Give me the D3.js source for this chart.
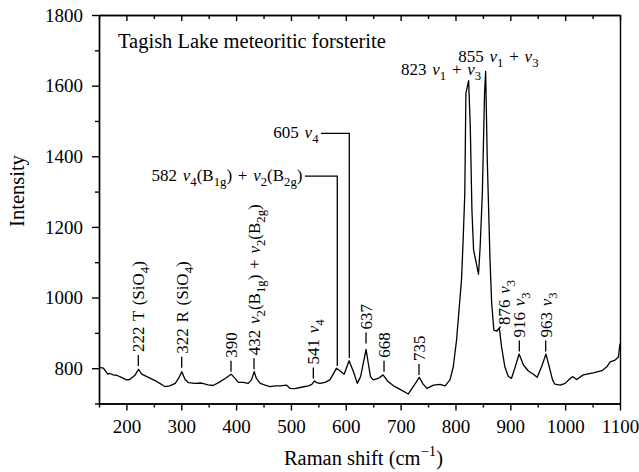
<!DOCTYPE html>
<html lang="en">
<head>
    <meta charset="UTF-8">
    <title>Tagish Lake meteoritic forsterite</title>
    <script src="https://cdnjs.cloudflare.com/ajax/libs/d3/7.8.5/d3.min.js"></script>
    <style>
        body { margin: 0; background: #fff; }
        svg { display: block; font-family: "Liberation Serif", "DejaVu Serif", serif; }
        .axis path, .axis line { stroke: #000; stroke-width: 1.4; }
        .axis text { fill: #000; font-size: 19px; font-family: "Liberation Serif", serif; }
        .spectrum { fill: none; stroke: #000; stroke-width: 1.3; stroke-linejoin: round; }
        .leader { stroke: #000; stroke-width: 1.3; fill: none; }
        .ann { font-size: 17px; fill: #000; word-spacing: 1.5px; }
    </style>
</head>
<body>
<div id="chart"></div>
<script>
    // Raman spectrum
    const ramanShift = [150, 158, 166, 170, 176, 182, 191, 200, 206, 216, 222, 228, 240, 252, 264, 270, 279, 289, 295, 301,
        307, 313, 325, 337, 349, 358, 368, 380, 391, 398, 404, 413, 422, 428, 433, 437, 444, 453, 462, 471,
        480, 492, 498, 507, 519, 532, 538, 543, 547, 553, 562, 571, 577, 583, 589, 597, 606, 614, 621, 627,
        637, 641, 645, 650, 659, 668, 677, 687, 699, 714, 723, 734, 741, 748, 760, 772, 781, 790, 796, 802,
        808, 811, 814, 817, 819, 824, 827, 830, 833, 842, 845, 849, 853, 855, 858, 863, 866, 870, 875, 880,
        884, 890, 896, 902, 909, 916, 924, 933, 942, 949, 957, 965, 971, 977, 981, 991, 1000, 1009, 1014, 1021,
        1033, 1051, 1067, 1076, 1082, 1091, 1097, 1100];
    const intensity = [802, 800, 783, 785, 781, 780, 774, 767, 768, 781, 797, 783, 774, 765, 754, 748, 750, 757, 771, 790,
        768, 759, 757, 758, 753, 751, 759, 771, 783, 771, 760, 760, 757, 767, 790, 771, 757, 752, 748, 750,
        750, 752, 743, 742, 746, 750, 754, 764, 759, 757, 760, 767, 783, 800, 793, 783, 821, 790, 757, 776,
        853, 814, 776, 767, 771, 781, 762, 750, 740, 727, 748, 774, 755, 743, 752, 754, 750, 767, 804, 880,
        993, 1050, 1163, 1295, 1578, 1614, 1484, 1248, 1135, 1066, 1144, 1295, 1578, 1640, 1389, 1106, 984, 908, 905, 913,
        861, 804, 778, 771, 804, 840, 809, 792, 783, 774, 804, 840, 804, 767, 755, 752, 757, 771, 776, 768,
        781, 787, 793, 804, 818, 823, 831, 870];

    const xMajorTicks = [200, 300, 400, 500, 600, 700, 800, 900, 1000, 1100];
    const xMinorTicks = [150, 250, 350, 450, 550, 650, 750, 850, 950, 1050];
    const yMajorTicks = [800, 1000, 1200, 1400, 1600, 1800];
    const yMinorTicks = [700, 900, 1100, 1300, 1500, 1700];

    // vertical peak labels: peak position, intensity at tick foot, label
    const peakLabels = [
        { x: 221.7, y: 806, text: "222 T (SiO_{4})" },
        { x: 300.8, y: 801, text: "322 R (SiO_{4})" },
        { x: 390.7, y: 790, text: "390" },
        { x: 432.6, y: 797, text: "432 ν_{2}(B_{1g}) + ν_{2}(B_{2g})" },
        { x: 540.8, y: 771, text: "541 ν_{4}" },
        { x: 636.9, y: 870, text: "637" },
        { x: 669.7, y: 790, text: "668" },
        { x: 733.5, y: 781, text: "735" },
        { x: 916.4, y: 847, text: "916 ν_{3}" },
        { x: 964.5, y: 847, text: "963 ν_{3}" }
    ];
    const shoulderLabel = { x: 875, y: 905, text: "876 ν_{3}" };

    // horizontal labels with elbow leaders
    const elbowLabels = [
        { x: 606.4, y0: 829, y1: 1465, xEnd: 554.8, text: "605 ν_{4}" },
        { x: 584.5, y0: 806, y1: 1344, xEnd: 525.6, text: "582 ν_{4}(B_{1g}) + ν_{2}(B_{2g})" }
    ];
    const topLabels = [
        { x: 700.7, y: 1630, text: "823 ν_{1} + ν_{3}" },
        { x: 805.2, y: 1668, text: "855 ν_{1} + ν_{3}" }
    ];

    const width = 639, height = 472;
    const margin = { top: 15, right: 19, bottom: 68.5, left: 99 };
    const annSize = 17;

    const svg = d3.select('#chart').append('svg')
        .attr('width', width)
        .attr('height', height);

    const x = d3.scaleLinear().domain([150, 1100]).range([margin.left, width - margin.right]);
    const y = d3.scaleLinear().domain([700, 1800]).range([height - margin.bottom, margin.top]);

    // writes text with _{sub}, ^{sup} and italic nu
    function rich(sel, str, fs) {
        let shift = 0;
        str.split(/(_\{[^}]*\}|\^\{[^}]*\})/).filter(s => s).forEach(p => {
            let target = 0, size = fs, content = p;
            if (p.startsWith('_{')) { content = p.slice(2, -1); target = fs * 0.3; size = fs * 0.75; }
            else if (p.startsWith('^{')) { content = p.slice(2, -1); target = -fs * 0.42; size = fs * 0.72; }
            content.split(/(ν)/).filter(s => s).forEach(c => {
                const t = sel.append('tspan').text(c).attr('font-size', size);
                if (c === 'ν') t.attr('font-style', 'italic');
                if (target !== shift) { t.attr('dy', target - shift); shift = target; }
            });
        });
    }

    // axes
    const fmt = d3.format('d');
    svg.append('g').attr('class', 'axis')
        .attr('transform', `translate(0,${height - margin.bottom})`)
        .call(d3.axisBottom(x).tickValues(xMajorTicks).tickFormat(fmt).tickSize(7).tickPadding(9).tickSizeOuter(0));
    svg.append('g').attr('class', 'axis')
        .attr('transform', `translate(0,${height - margin.bottom})`)
        .call(d3.axisBottom(x).tickValues(xMinorTicks).tickSize(4).tickFormat('').tickSizeOuter(0));
    svg.append('g').attr('class', 'axis')
        .attr('transform', `translate(0,${margin.top})`)
        .call(d3.axisTop(x).tickValues(xMajorTicks).tickSize(-6).tickFormat('').tickSizeOuter(0));
    svg.append('g').attr('class', 'axis')
        .attr('transform', `translate(0,${margin.top})`)
        .call(d3.axisTop(x).tickValues(xMinorTicks).tickSize(-4).tickFormat('').tickSizeOuter(0));
    svg.append('g').attr('class', 'axis')
        .attr('transform', `translate(${margin.left},0)`)
        .call(d3.axisLeft(y).tickValues(yMajorTicks).tickFormat(fmt).tickSize(7).tickPadding(9).tickSizeOuter(0));
    svg.append('g').attr('class', 'axis')
        .attr('transform', `translate(${margin.left},0)`)
        .call(d3.axisLeft(y).tickValues(yMinorTicks).tickSize(4).tickFormat('').tickSizeOuter(0));
    svg.append('g').attr('class', 'axis')
        .attr('transform', `translate(${width - margin.right},0)`)
        .call(d3.axisRight(y).tickValues([]).tickSizeOuter(0));

    // spectrum
    const line = d3.line().x((d, i) => x(ramanShift[i])).y(d => y(d));
    svg.append('path')
        .datum(intensity)
        .attr('class', 'spectrum')
        .attr('d', line);

    // vertical peak labels
    peakLabels.forEach(p => {
        const px = x(p.x), py = y(p.y);
        svg.append('line').attr('class', 'leader')
            .attr('x1', px).attr('x2', px)
            .attr('y1', py).attr('y2', py - 11);
        const t = svg.append('text').attr('class', 'ann')
            .attr('transform', `translate(${px},${py - 14}) rotate(-90)`)
            .attr('dy', '0.35em');
        rich(t, p.text, annSize);
    });

    {
        const px = x(shoulderLabel.x), py = y(shoulderLabel.y);
        svg.append('line').attr('class', 'leader')
            .attr('x1', px).attr('x2', px + 4)
            .attr('y1', py).attr('y2', py - 4.5);
        const t = svg.append('text').attr('class', 'ann')
            .attr('transform', `translate(${px + 7},${py - 6}) rotate(-90)`)
            .attr('dy', '0.35em');
        rich(t, shoulderLabel.text, annSize);
    }

    elbowLabels.forEach(p => {
        svg.append('path').attr('class', 'leader')
            .attr('d', `M${x(p.x)},${y(p.y0)}V${y(p.y1)}H${x(p.xEnd)}`);
        const t = svg.append('text').attr('class', 'ann')
            .attr('x', x(p.xEnd) - 2.5)
            .attr('y', y(p.y1) + 4.5)
            .attr('text-anchor', 'end');
        rich(t, p.text, annSize);
    });

    topLabels.forEach(p => {
        const t = svg.append('text').attr('class', 'ann')
            .attr('x', x(p.x))
            .attr('y', y(p.y));
        rich(t, p.text, annSize);
    });

    // title
    svg.append('text')
        .attr('x', margin.left + 19)
        .attr('y', margin.top + 33)
        .attr('font-size', 20.5)
        .text('Tagish Lake meteoritic forsterite');

    // axis titles
    const xt = svg.append('text')
        .attr('x', (margin.left + width - margin.right) / 2 + 4)
        .attr('y', height - 7)
        .attr('text-anchor', 'middle');
    rich(xt, 'Raman shift (cm^{−1})', 20.5);

    svg.append('text')
        .attr('transform', 'translate(24,191) rotate(-90)')
        .attr('text-anchor', 'middle')
        .attr('font-size', 20.5)
        .text('Intensity');
</script>
</body>
</html>
